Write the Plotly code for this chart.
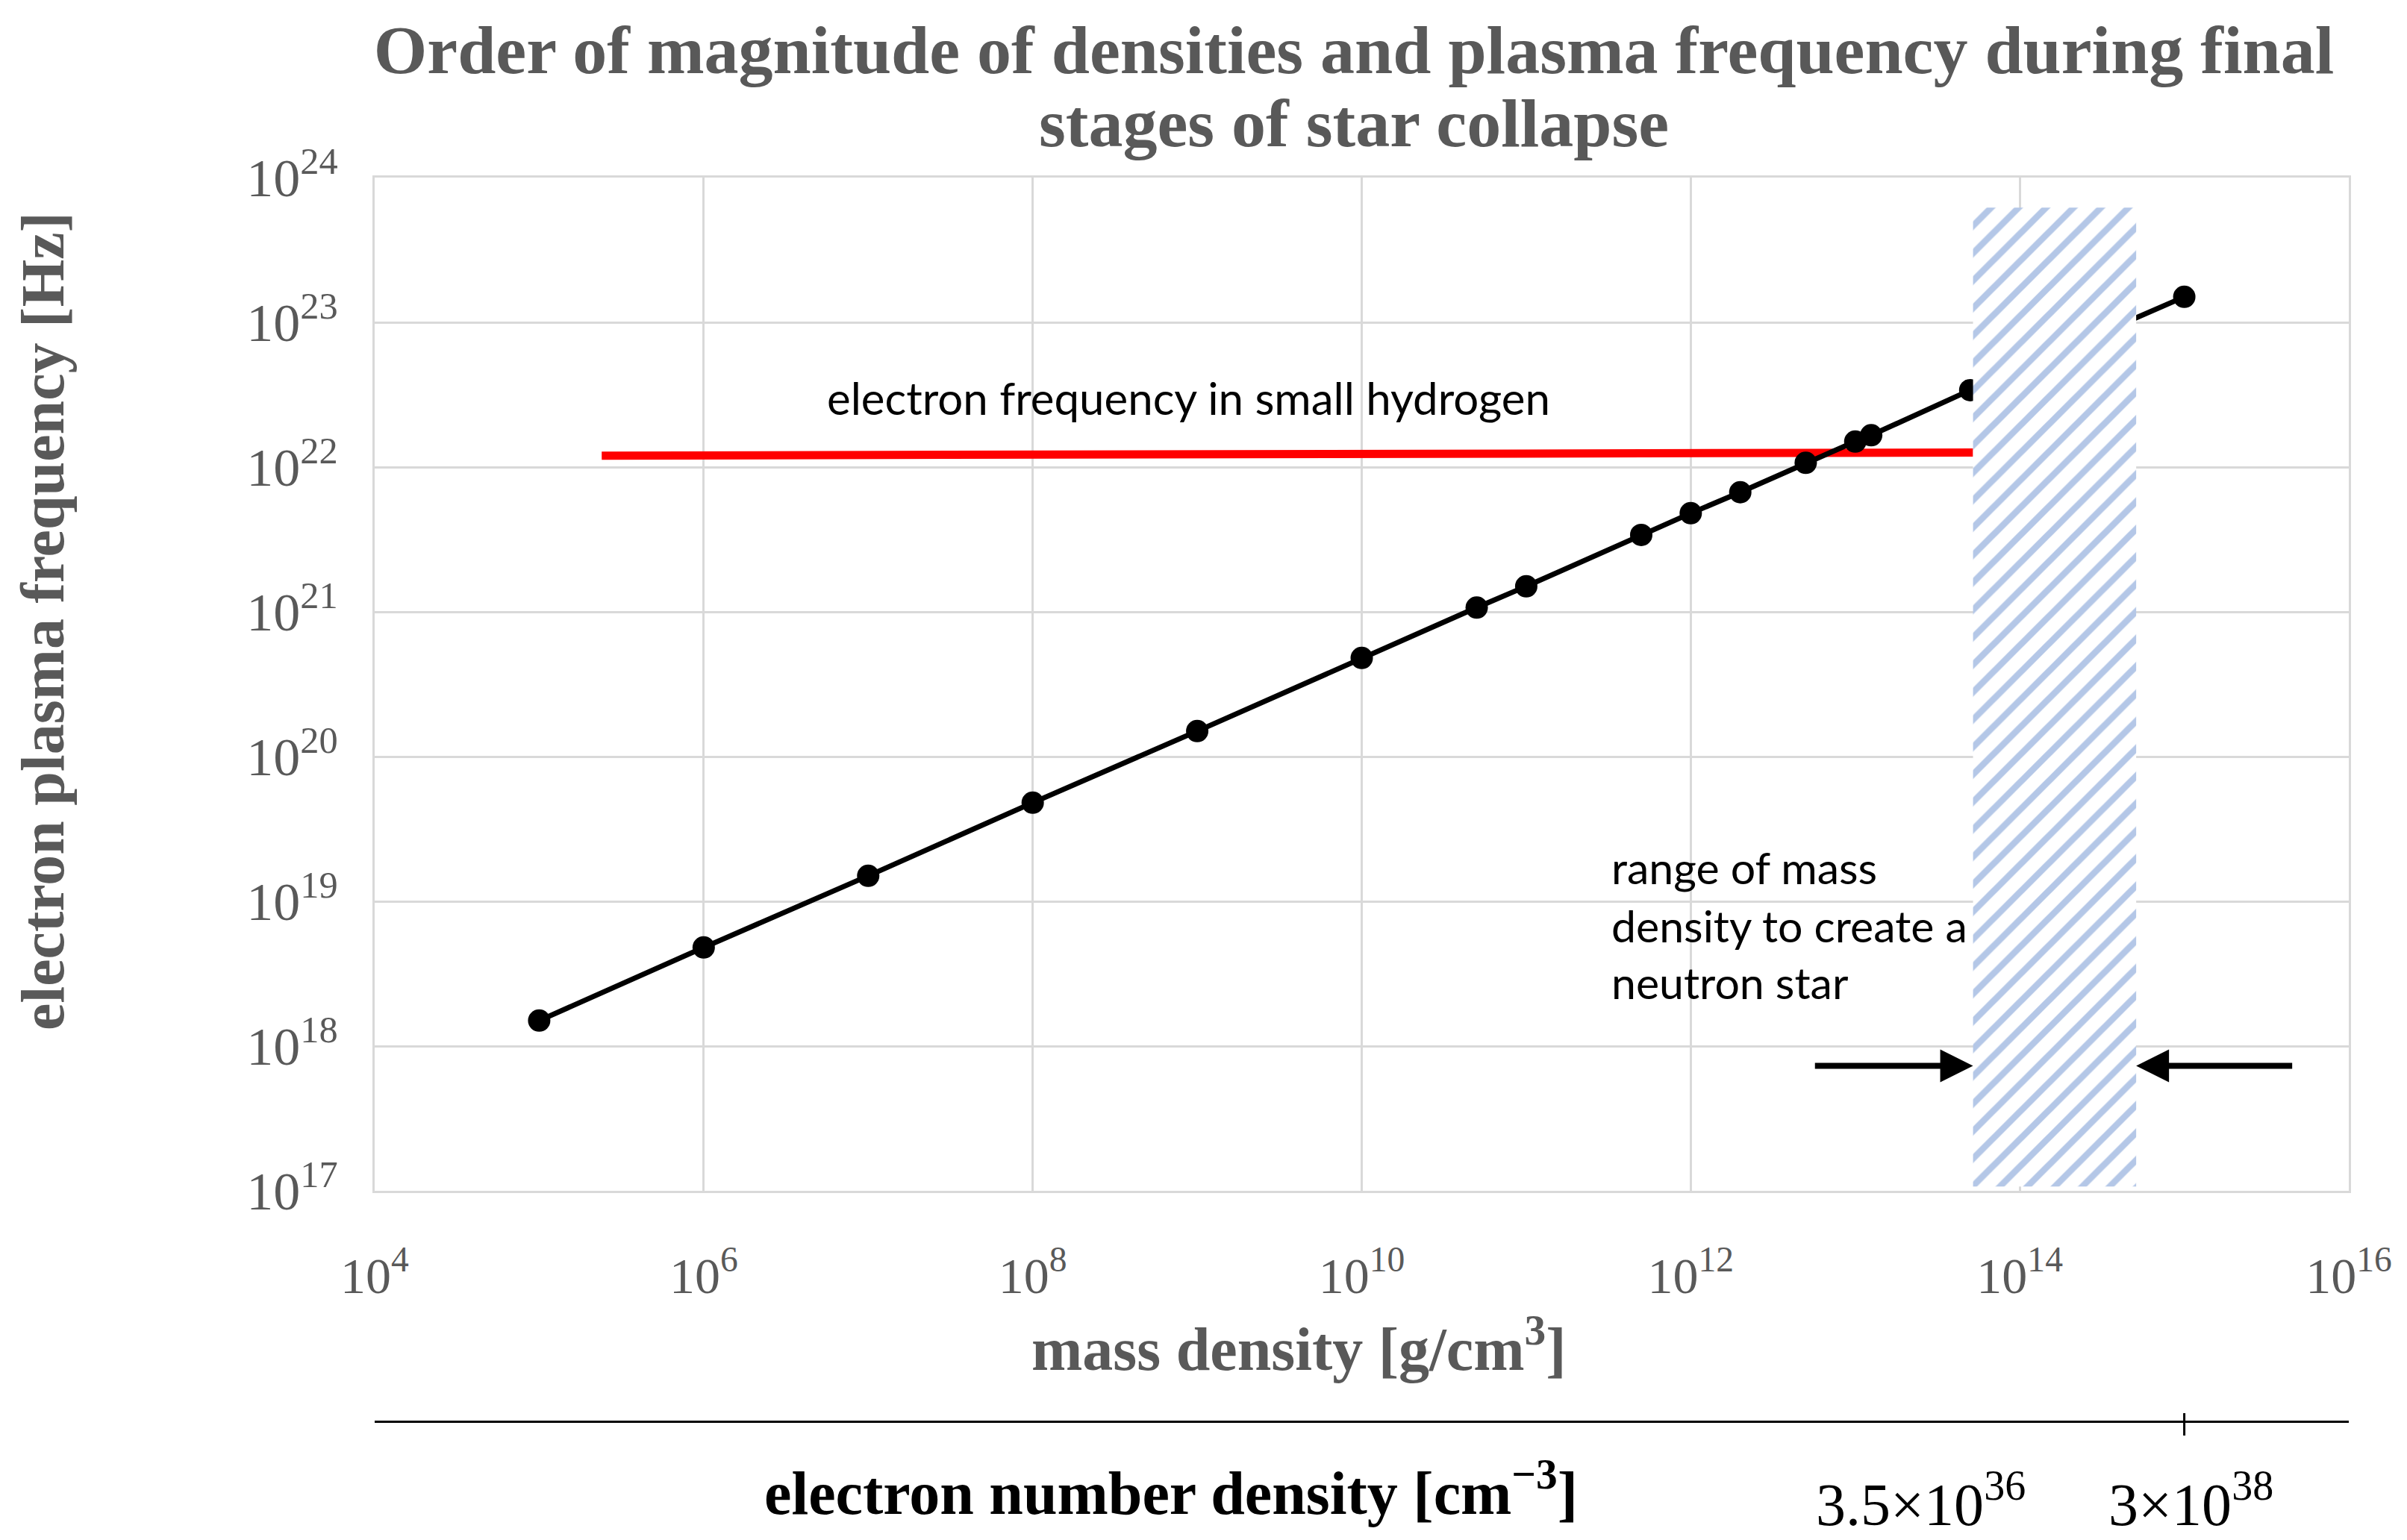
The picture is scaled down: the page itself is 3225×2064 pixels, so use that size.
import numpy as np
import plotly.graph_objects as go

# ---------------- data ----------------
mass_density = [1e5, 1e6, 1e7, 1e8, 1e9, 1e10, 5e10, 1e11, 5e11, 1e12, 2e12, 5e12,
                1e13, 1.25e13, 5e13, 1e15]
plasma_freq = [1.5e18, 4.8e18, 1.5e19, 4.8e19, 1.5e20, 4.8e20, 1.07e21, 1.5e21,
               3.4e21, 4.8e21, 6.7e21, 1.07e22, 1.5e22, 1.66e22, 3.4e22, 1.5e23]

hydrogen_x = [2.4e5, 5.2e13]
hydrogen_y = [1.2e22, 1.26e22]
hydrogen_label = "electron frequency in small hydrogen"

neutron_range_x = [5.2e13, 5.1e14]
neutron_range_y = [1.07e17, 6.2e23]
neutron_label = ["range of mass", "density to create a", "neutron star"]
arrow_tail_x = [5.6e12, 4.6e15]
arrow_y = 7.3e17

x_tick_exp = [4, 6, 8, 10, 12, 14, 16]
y_tick_exp = [17, 18, 19, 20, 21, 22, 23, 24]

ne_tick_rho = [1e15]
ne_label_rho = [2.5e13, 1.1e15]
ne_labels = ["3.5×10<sup>36</sup>", "3×10<sup>38</sup>"]

title_line1 = "<b>Order of magnitude of densities and plasma frequency during final</b>"
title_line2 = "<b>stages of star collapse</b>"
x_title = "<b>mass density [g/cm<sup>3</sup>]</b>"
y_title = "<b>electron plasma frequency [Hz]</b>"
ne_title = "<b>electron number density [cm<sup>−3</sup>]</b>"

# ---------------- geometry ----------------
W, H = 3225, 2064
L, R, T = 502, 78, 238
plot_bottom = 1596
PW = W - L - R
PH = H - T


def py(ypix):
    return (H - ypix) / PH


def px(xpix):
    return (xpix - L) / PW


SERIF = "Liberation Serif"
SANS = "Lato"
GRAY = "#595959"
GRID = "#d9d9d9"

fig = go.Figure()

# red hydrogen line
fig.add_trace(go.Scatter(x=hydrogen_x, y=hydrogen_y, mode="lines",
                         line=dict(color="#ff0000", width=11),
                         showlegend=False, hoverinfo="skip"))

# data series
fig.add_trace(go.Scatter(x=mass_density, y=plasma_freq, mode="lines+markers",
                         line=dict(color="black", width=7),
                         marker=dict(color="black", size=30),
                         showlegend=False))

# hatched neutron star region
x0, x1 = neutron_range_x
y0, y1 = neutron_range_y
fig.add_trace(go.Scatter(x=[x0, x1, x1, x0, x0], y=[y0, y0, y1, y1, y0],
                         mode="lines", line=dict(width=0, color="rgba(0,0,0,0)"),
                         fill="toself", fillcolor="white",
                         fillpattern=dict(shape="/", fgcolor="#b4c7e7", bgcolor="white",
                                          size=26, solidity=0.33, fillmode="replace"),
                         showlegend=False, hoverinfo="skip"))

# dummy trace to activate secondary axis
fig.add_trace(go.Scatter(x=ne_tick_rho, y=[None], xaxis="x2", yaxis="y",
                         mode="markers", showlegend=False, hoverinfo="skip"))

C = dict(xanchor="center", yanchor="middle", showarrow=False)

annotations = []
annotations.append(dict(text=title_line2, xref="paper", yref="paper",
                        x=px(1814), y=py(165), **C,
                        font=dict(family=SERIF, size=92, color=GRAY)))
annotations.append(dict(text=hydrogen_label, xref="paper", yref="paper",
                        x=px(1592), y=py(533), **C,
                        font=dict(family=SANS, size=60, color="black")))
for i, line in enumerate(neutron_label):
    annotations.append(dict(text=line, xref="paper", yref="paper",
                            x=px(2157), y=py([1162, 1240, 1316][i]),
                            xanchor="left", yanchor="middle", showarrow=False,
                            font=dict(family=SANS, size=59, color="black")))
# arrows pointing at the range edges
for tip, tail in zip(neutron_range_x, arrow_tail_x):
    annotations.append(dict(text="", xref="x", yref="y", axref="x", ayref="y",
                            x=float(np.log10(tip)), y=float(np.log10(arrow_y)),
                            ax=float(np.log10(tail)), ay=float(np.log10(arrow_y)),
                            showarrow=True, arrowhead=2, arrowsize=1.1, arrowwidth=8,
                            arrowcolor="black", standoff=0))
# axis titles
annotations.append(dict(text=x_title, xref="paper", yref="paper",
                        x=px(1740), y=py(1802), **C,
                        font=dict(family=SERIF, size=82, color=GRAY)))
annotations.append(dict(text=y_title, xref="paper", yref="paper", textangle=-90,
                        x=px(58), y=py(833), **C,
                        font=dict(family=SERIF, size=82, color=GRAY)))
# secondary axis labels
for rho, lab in zip(ne_label_rho, ne_labels):
    annotations.append(dict(text=lab, xref="x2", yref="paper",
                            x=float(np.log10(rho)), y=py(2010), **C,
                            font=dict(family=SERIF, size=80, color="black")))
annotations.append(dict(text=ne_title, xref="paper", yref="paper",
                        x=px(1569), y=py(1995), **C,
                        font=dict(family=SERIF, size=82, color="black")))

shapes = []
for rho in ne_tick_rho:
    shapes.append(dict(type="line", xref="x", yref="paper", x0=rho, x1=rho,
                       y0=py(1924), y1=py(1894), line=dict(color="black", width=3)))

fig.update_layout(
    width=W, height=H,
    margin=dict(l=L, r=R, t=T, b=0, pad=0, autoexpand=False),
    paper_bgcolor="white", plot_bgcolor="white",
    title=dict(text=title_line1, x=px(1814), xref="paper", xanchor="center",
               y=1 - 66 / H, yref="container", yanchor="middle",
               font=dict(family=SERIF, size=92, color=GRAY)),
    xaxis=dict(type="log", range=[4, 16], automargin=False,
               tickvals=[10.0 ** e for e in x_tick_exp],
               ticktext=[f"10<sup>{e}</sup>" for e in x_tick_exp],
               showgrid=True, gridcolor=GRID, gridwidth=3,
               showline=True, mirror=True, linecolor=GRID, linewidth=3,
               zeroline=False, ticks="", ticklabelstandoff=52,
               tickfont=dict(family=SERIF, size=68, color=GRAY)),
    xaxis2=dict(type="log", range=[4, 16], overlaying="x", anchor="free",
                position=py(1905), side="bottom", automargin=False,
                showline=True, linecolor="black", linewidth=3,
                showgrid=False, zeroline=False, showticklabels=False, ticks=""),
    yaxis=dict(type="log", range=[17, 24], domain=[py(plot_bottom), 1],
               automargin=False,
               tickvals=[10.0 ** e for e in y_tick_exp],
               ticktext=[f"10<sup>{e}</sup>" for e in y_tick_exp],
               showgrid=True, gridcolor=GRID, gridwidth=3,
               showline=True, mirror=True, linecolor=GRID, linewidth=3,
               zeroline=False, ticks="", ticklabelstandoff=32,
               tickfont=dict(family=SERIF, size=72, color=GRAY)),
    annotations=annotations,
    shapes=shapes,
    showlegend=False,
)

fig.write_html("out.html")
